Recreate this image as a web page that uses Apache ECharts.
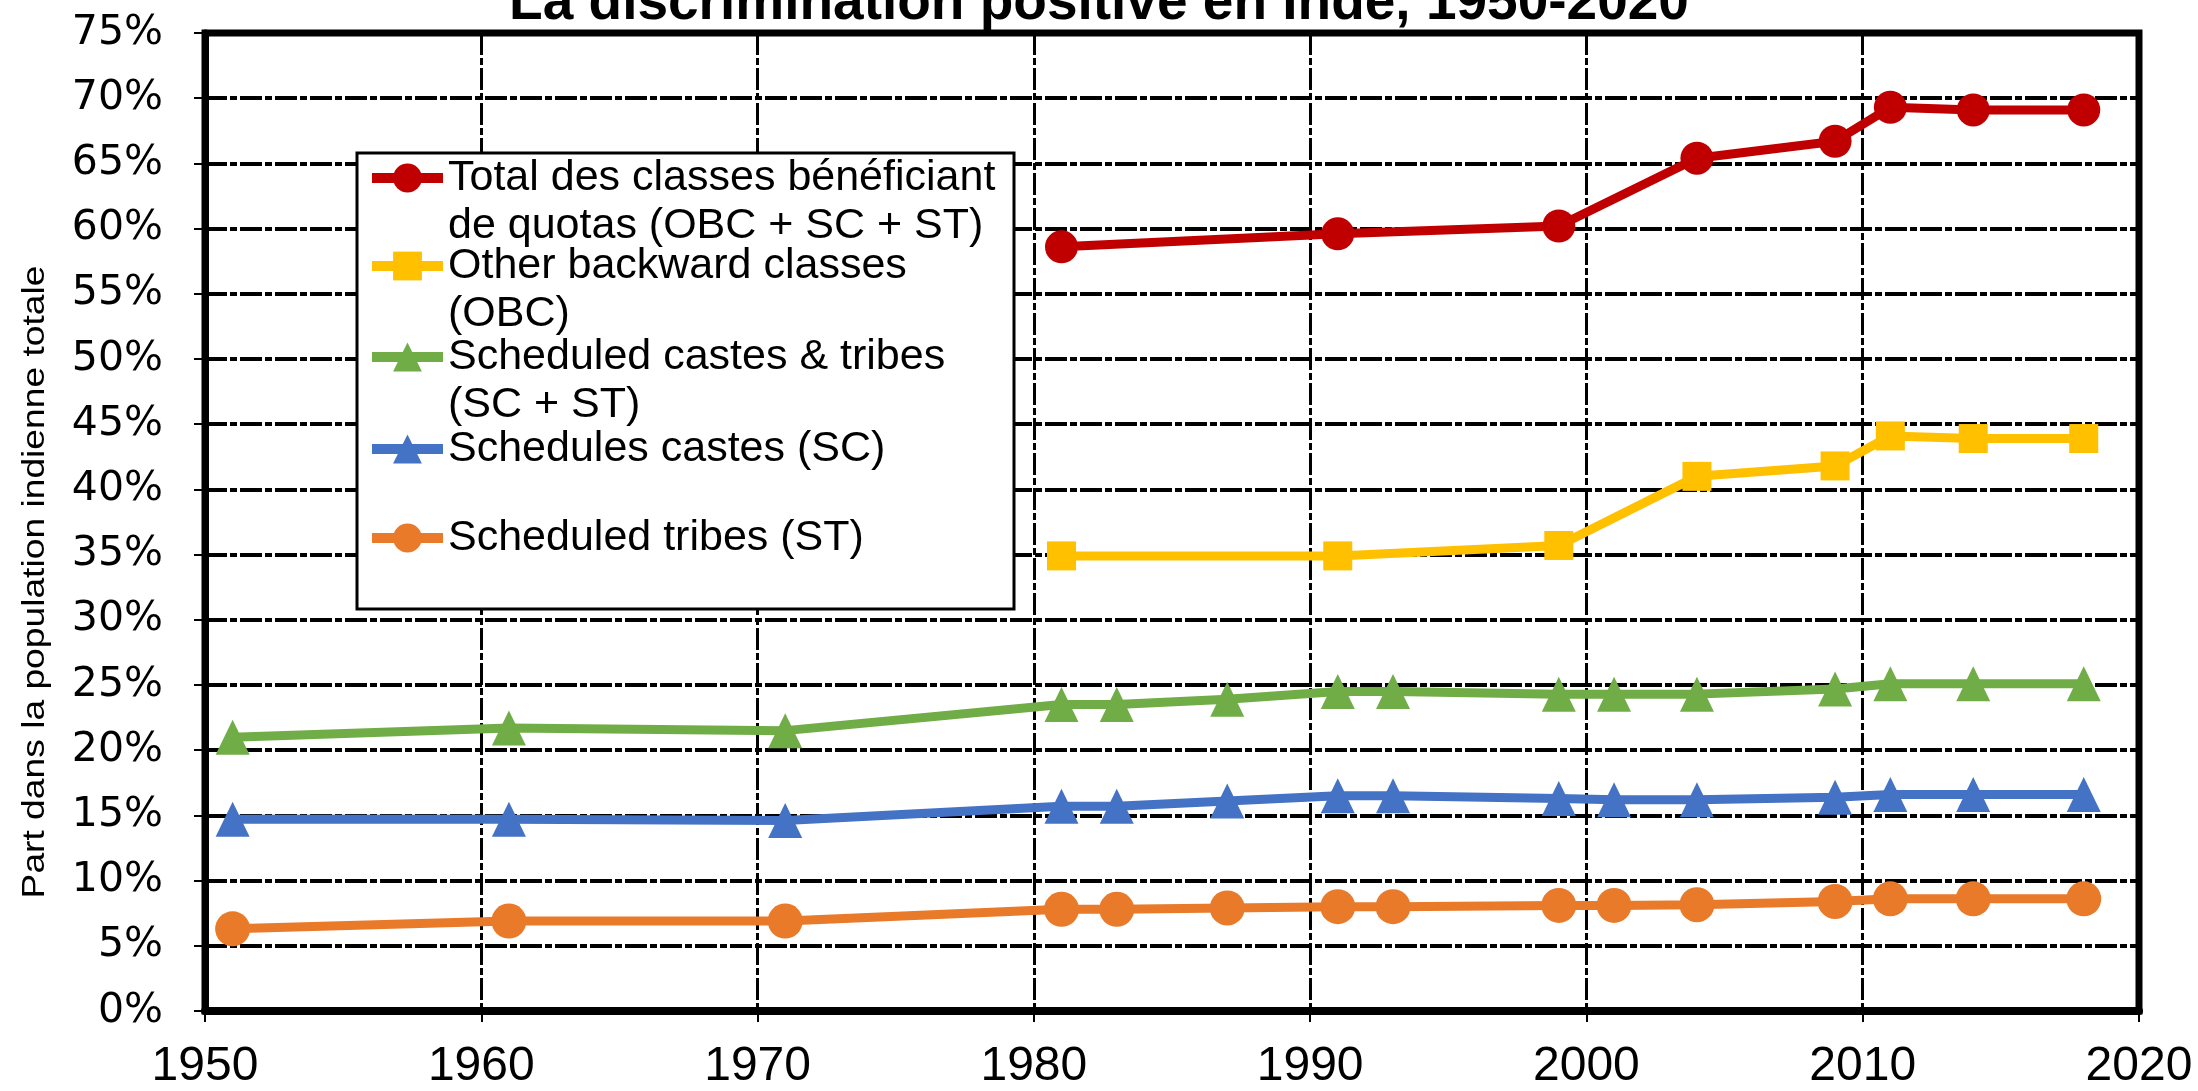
<!DOCTYPE html>
<html>
<head>
<meta charset="utf-8">
<script src="https://cdn.jsdelivr.net/npm/echarts@6/dist/echarts.min.js"></script>
<style>
  html, body { margin: 0; padding: 0; background: #fff; }
  #chart { width: 2198px; height: 1091px; }
</style>
</head>
<body>
<div id="chart"></div>
<script>
// années des séries OBC / total
var yearsQuota = [1981, 1991, 1999, 2004, 2009, 2011, 2014, 2018];
var totalQuota = [58.6, 59.6, 60.2, 65.4, 66.7, 69.3, 69.1, 69.1];
var obc = [34.9, 34.9, 35.7, 41.0, 41.8, 44.1, 43.9, 43.9];

// années des séries SC / ST
var yearsSc = [1951, 1961, 1971, 1981, 1983, 1987, 1991, 1993, 1999, 2001, 2004, 2009, 2011, 2014, 2018];
var scSt = [21.0, 21.7, 21.5, 23.5, 23.5, 23.9, 24.5, 24.5, 24.3, 24.3, 24.3, 24.7, 25.1, 25.1, 25.1];
var sc = [14.7, 14.7, 14.6, 15.7, 15.7, 16.1, 16.5, 16.5, 16.3, 16.2, 16.2, 16.4, 16.6, 16.6, 16.6];
var st = [6.3, 6.9, 6.9, 7.8, 7.8, 7.9, 8.0, 8.0, 8.1, 8.1, 8.15, 8.4, 8.6, 8.6, 8.6];

var names = [
  'Total des classes bénéficiant\nde quotas (OBC + SC + ST)',
  'Other backward classes\n(OBC)',
  'Scheduled castes & tribes\n(SC + ST)',
  'Schedules castes (SC)',
  'Scheduled tribes (ST)'
];
var colors = ['#C00000', '#FFC000', '#70AD47', '#4472C4', '#E87A2A'];

function pairs(xs, ys) {
  var out = [];
  for (var i = 0; i < xs.length; i++) out.push([xs[i], ys[i]]);
  return out;
}

function mkSeries(idx, xs, ys, symbol, size) {
  return {
    name: names[idx],
    type: 'line',
    data: pairs(xs, ys),
    symbol: symbol,
    symbolSize: size,
    showSymbol: true,
    color: colors[idx],
    lineStyle: { width: 9, color: colors[idx] },
    itemStyle: { color: colors[idx] },
    z: 10 - idx,
    animation: false
  };
}

// une légende par entrée ; une ligne vide devant le texte sur deux lignes
// pour que l'icône tombe en face de la première ligne
var LH = 48;
var iconY = [178, 266, 357, 449, 538];
var legends = [];
for (var i = 0; i < names.length; i++) {
  var twoLines = names[i].indexOf('\n') >= 0;
  legends.push({
    data: [names[i]],
    left: 367,
    top: iconY[i] - (twoLines ? 1.5 * LH : LH / 2),
    padding: 0,
    itemWidth: 71,
    itemHeight: 36,
    selectedMode: false,
    z: 6,
    lineStyle: { width: 10 },
    formatter: function (n) { return n.indexOf('\n') >= 0 ? ' \n' + n : n; },
    textStyle: {
      fontFamily: 'Liberation Sans',
      fontSize: 43,
      color: '#000',
      lineHeight: LH
    }
  });
}

var chart = echarts.init(document.getElementById('chart'));
chart.setOption({
  animation: false,
  backgroundColor: '#fff',
  title: {
    text: 'La discrimination positive en Inde, 1950-2020',
    left: 'center',
    top: -24,
    padding: 0,
    textStyle: { fontFamily: 'Liberation Sans', fontWeight: 'bold', fontSize: 55, color: '#000' }
  },
  legend: legends,
  graphic: [
    {
      type: 'rect',
      z: 5,
      shape: { x: 357, y: 153, width: 657, height: 456 },
      style: { fill: '#fff', stroke: '#000', lineWidth: 3 }
    },
    {
      type: 'text',
      x: 35,
      y: 582,
      rotation: Math.PI / 2,
      scaleX: 1.2,
      style: {
        text: 'Part dans la population indienne totale',
        fontFamily: 'Liberation Sans',
        fontSize: 31,
        fill: '#000',
        align: 'center',
        verticalAlign: 'middle'
      }
    }
  ],
  grid: {
    left: 205, right: 59, top: 33, bottom: 79,
    show: true, borderColor: '#000', borderWidth: 7
  },
  xAxis: {
    type: 'value',
    min: 1950, max: 2020, interval: 10,
    axisLine: { lineStyle: { color: '#000', width: 8 } },
    axisTick: { show: true, length: 11, lineStyle: { color: '#000', width: 2 } },
    axisLabel: {
      margin: 32,
      fontFamily: 'Liberation Sans',
      fontSize: 48,
      color: '#000',
      formatter: function (v) { return String(v); }
    },
    splitLine: { show: true, lineStyle: { color: '#000', width: 3, type: [22, 3, 7, 3] } }
  },
  yAxis: {
    type: 'value',
    min: 0, max: 75, interval: 5,
    axisLine: { show: true, lineStyle: { color: '#000', width: 7 } },
    axisTick: { show: true, length: 11, lineStyle: { color: '#000', width: 2 } },
    axisLabel: {
      margin: 42,
      fontFamily: 'DejaVu Sans',
      fontSize: 41,
      color: '#000',
      formatter: '{value}%'
    },
    splitLine: { show: true, lineStyle: { color: '#000', width: 4, type: [22, 3, 7, 3] } }
  },
  series: [
    mkSeries(0, yearsQuota, totalQuota, 'circle', 33),
    mkSeries(1, yearsQuota, obc, 'rect', 29),
    mkSeries(2, yearsSc, scSt, 'triangle', [34, 35]),
    mkSeries(3, yearsSc, sc, 'triangle', [34, 35]),
    mkSeries(4, yearsSc, st, 'circle', 35)
  ]
});
</script>
</body>
</html>
